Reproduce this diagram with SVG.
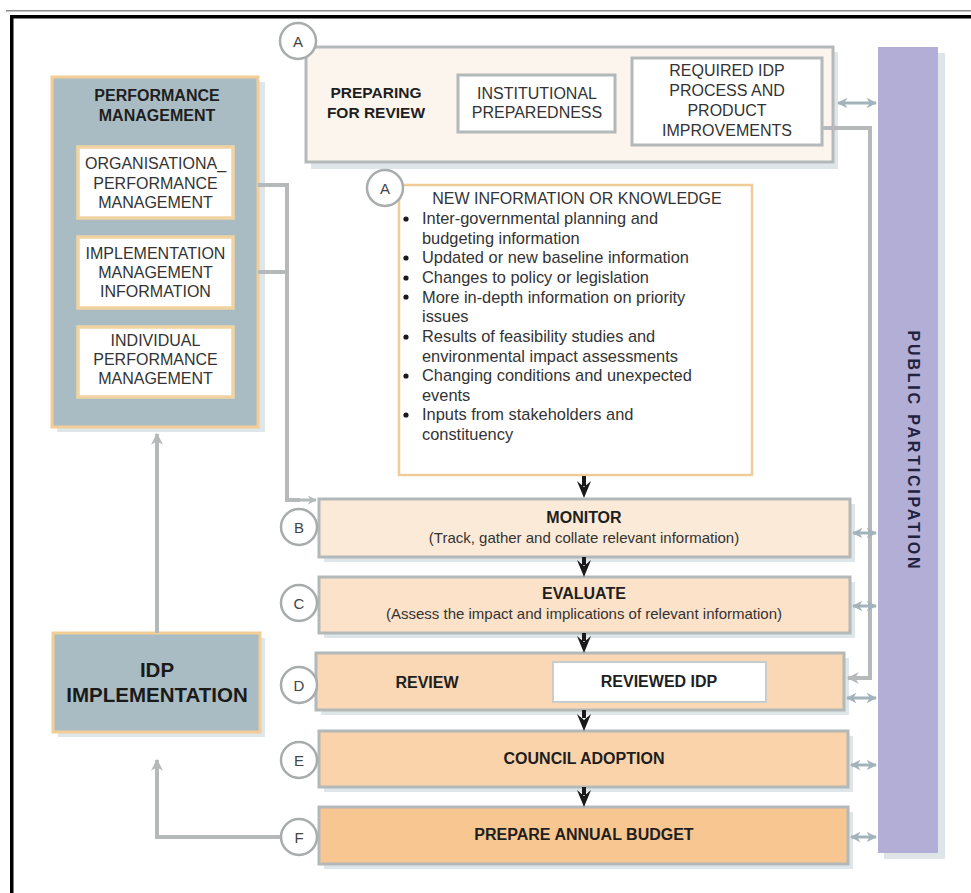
<svg xmlns="http://www.w3.org/2000/svg" width="971" height="893" viewBox="0 0 971 893">
  <style>
    .t { font-family: "Liberation Sans", Arial, sans-serif; font-size: 16px; fill: #333; }
    .c { text-anchor: middle; }
    .b { font-weight: bold; fill: #1e1e1e; }
    .box { stroke: #b3b8b9; stroke-width: 3; }
    .shadow { fill: #dfe6ea; }
    .circ { fill: #fff; stroke: #a8acac; stroke-width: 2.5; }
    .lbl { font-family: "Liberation Sans", Arial, sans-serif; font-size: 15px; fill: #444; text-anchor: middle; }
    .inner { fill: #fff; stroke: #f1d3a2; stroke-width: 3.5; }
    .link { fill: none; stroke: #b5b9ba; stroke-width: 4; }
    .pp { fill: none; stroke: #a3b3bc; stroke-width: 3; marker-start: url(#dbl); marker-end: url(#dbl); }
    .down { fill: #1a1a1a; }
  </style>
  <defs>
    <marker id="grey" viewBox="0 0 10 10" refX="9" refY="5" markerWidth="3" markerHeight="3" orient="auto" markerUnits="strokeWidth">
      <path d="M0,0 L10,5 L0,10 L3,5 z" fill="#b5b9ba"/>
    </marker>
    <marker id="dbl" viewBox="0 0 10 10" refX="9" refY="5" markerWidth="3.5" markerHeight="3.5" orient="auto-start-reverse" markerUnits="strokeWidth">
      <path d="M0,0 L10,5 L0,10 L3,5 z" fill="#a3b3bc"/>
    </marker>
  </defs>

  <rect width="971" height="893" fill="#fff"/>

  <!-- page frame -->
  <g id="frame">
    <rect x="6" y="10" width="965" height="1.5" fill="#8a8a8a"/>
    <rect x="10" y="15" width="961" height="3.5" fill="#000"/>
    <rect x="10" y="15" width="3.5" height="878" fill="#000"/>
  </g>

  <!-- public participation column -->
  <g id="public-participation">
    <rect x="884" y="53" width="61" height="806" fill="#dfe4e8"/>
    <rect x="878" y="47" width="60" height="806" fill="#b3aed6"/>
    <text class="t b" transform="translate(908,451) rotate(90)" text-anchor="middle" style="font-size:16px;letter-spacing:2.8px;fill:#1f2340">PUBLIC PARTICIPATION</text>
  </g>

  <!-- performance management -->
  <g id="performance-management">
    <rect x="57" y="82" width="208" height="350" class="shadow"/>
    <rect x="52" y="77" width="206" height="350" fill="#a9bcc3" stroke="#f2cd96" stroke-width="3"/>
    <text class="t c b" x="157" y="101" style="font-size:16px">PERFORMANCE</text>
    <text class="t c b" x="157" y="121" style="font-size:16px">MANAGEMENT</text>
    <g id="organisational-pm">
      <rect x="78" y="147" width="155" height="71" class="inner"/>
      <text class="t c" x="155.5" y="169">ORGANISATIONA_</text>
      <text class="t c" x="155.5" y="188.5">PERFORMANCE</text>
      <text class="t c" x="155.5" y="208">MANAGEMENT</text>
    </g>
    <g id="implementation-mi">
      <rect x="78" y="237" width="155" height="71" class="inner"/>
      <text class="t c" x="155.5" y="259">IMPLEMENTATION</text>
      <text class="t c" x="155.5" y="278">MANAGEMENT</text>
      <text class="t c" x="155.5" y="297">INFORMATION</text>
    </g>
    <g id="individual-pm">
      <rect x="78" y="327" width="155" height="70" class="inner"/>
      <text class="t c" x="155.5" y="346">INDIVIDUAL</text>
      <text class="t c" x="155.5" y="365">PERFORMANCE</text>
      <text class="t c" x="155.5" y="384">MANAGEMENT</text>
    </g>
  </g>

  <!-- IDP implementation -->
  <g id="idp-implementation">
    <rect x="58" y="638" width="207" height="99" class="shadow"/>
    <rect x="53" y="633" width="207" height="99" fill="#a9bcc3" stroke="#f2cd96" stroke-width="3"/>
    <text class="t c b" x="157" y="677" style="font-size:20.5px;fill:#1a1a1a">IDP</text>
    <text class="t c b" x="157" y="702" style="font-size:20.5px;fill:#1a1a1a">IMPLEMENTATION</text>
  </g>

  <!-- preparing for review -->
  <g id="preparing-for-review">
    <rect x="311" y="52" width="527" height="117" class="shadow"/>
    <rect x="306" y="47" width="527" height="115" fill="#fcf5ee" class="box"/>
    <text class="t c b" x="376" y="98" style="font-size:15.5px">PREPARING</text>
    <text class="t c b" x="376" y="118" style="font-size:15.5px">FOR REVIEW</text>
    <g id="institutional-preparedness">
      <rect x="458" y="75" width="157" height="57" fill="#fff" class="box"/>
      <text class="t c" x="537" y="99">INSTITUTIONAL</text>
      <text class="t c" x="537" y="118">PREPAREDNESS</text>
    </g>
    <g id="required-improvements">
      <rect x="632" y="58" width="190" height="87" fill="#fff" class="box"/>
      <text class="t c" x="727" y="76">REQUIRED IDP</text>
      <text class="t c" x="727" y="96">PROCESS AND</text>
      <text class="t c" x="727" y="116">PRODUCT</text>
      <text class="t c" x="727" y="136">IMPROVEMENTS</text>
    </g>
  </g>

  <!-- new information -->
  <g id="new-information">
    <rect x="399" y="185" width="353" height="290" fill="#fff" stroke="#f0cc98" stroke-width="2.5"/>
    <text class="t c" x="577" y="204">NEW INFORMATION OR KNOWLEDGE</text>
    <g fill="#1a1a1a">
      <circle cx="406" cy="219" r="2.6"/>
      <circle cx="406" cy="258" r="2.6"/>
      <circle cx="406" cy="278" r="2.6"/>
      <circle cx="406" cy="297" r="2.6"/>
      <circle cx="406" cy="337" r="2.6"/>
      <circle cx="406" cy="376" r="2.6"/>
      <circle cx="406" cy="415" r="2.6"/>
    </g>
    <g style="font-size:16.4px">
      <text class="t" x="422" y="224" style="font-size:16.4px">Inter-governmental planning and</text>
      <text class="t" x="422" y="243.5" style="font-size:16.4px">budgeting information</text>
      <text class="t" x="422" y="263" style="font-size:16.4px">Updated or new baseline information</text>
      <text class="t" x="422" y="283" style="font-size:16.4px">Changes to policy or legislation</text>
      <text class="t" x="422" y="302.5" style="font-size:16.4px">More in-depth information on priority</text>
      <text class="t" x="422" y="322" style="font-size:16.4px">issues</text>
      <text class="t" x="422" y="342" style="font-size:16.4px">Results of feasibility studies and</text>
      <text class="t" x="422" y="361.5" style="font-size:16.4px">environmental impact assessments</text>
      <text class="t" x="422" y="381" style="font-size:16.4px">Changing conditions and unexpected</text>
      <text class="t" x="422" y="400.5" style="font-size:16.4px">events</text>
      <text class="t" x="422" y="420" style="font-size:16.4px">Inputs from stakeholders and</text>
      <text class="t" x="422" y="439.5" style="font-size:16.4px">constituency</text>
    </g>
  </g>

  <!-- process stack -->
  <g id="monitor">
    <rect x="324" y="504" width="531" height="58" class="shadow"/>
    <rect x="319" y="499" width="531" height="58" fill="#fcead8" class="box"/>
    <text class="t c b" x="584" y="523">MONITOR</text>
    <text class="t c" x="584" y="543" style="font-size:15px">(Track, gather and collate relevant information)</text>
  </g>
  <g id="evaluate">
    <rect x="324" y="582" width="531" height="56" class="shadow"/>
    <rect x="319" y="577" width="531" height="56" fill="#fce2c9" class="box"/>
    <text class="t c b" x="584" y="599">EVALUATE</text>
    <text class="t c" x="584" y="619" style="font-size:15px">(Assess the impact and implications of relevant information)</text>
  </g>
  <g id="review">
    <rect x="321" y="658" width="528" height="57" class="shadow"/>
    <rect x="316" y="653" width="528" height="57" fill="#fad8b6" class="box"/>
    <text class="t c b" x="427" y="688">REVIEW</text>
    <g id="reviewed-idp">
      <rect x="553" y="662" width="213" height="40" fill="#fff" stroke="#c9ccc9" stroke-width="2"/>
      <text class="t c b" x="659" y="687">REVIEWED IDP</text>
    </g>
  </g>
  <g id="council-adoption">
    <rect x="324" y="736" width="529" height="56" class="shadow"/>
    <rect x="319" y="731" width="529" height="56" fill="#fbd3ab" class="box"/>
    <text class="t c b" x="584" y="764">COUNCIL ADOPTION</text>
  </g>
  <g id="prepare-annual-budget">
    <rect x="324" y="812" width="529" height="57" class="shadow"/>
    <rect x="319" y="807" width="529" height="57" fill="#f8c690" class="box"/>
    <text class="t c b" x="584" y="840">PREPARE ANNUAL BUDGET</text>
  </g>

  <!-- connectors -->
  <g id="connectors">
    <polyline class="link" points="258,185 287,185 287,500 300,500"/>
    <path class="link" d="M300,500 L316,500" marker-end="url(#grey)" style="stroke-width:3"/>
    <line class="link" x1="258" y1="272" x2="287" y2="272"/>
    <line class="link" x1="157" y1="633" x2="157" y2="434" marker-end="url(#grey)"/>
    <polyline class="link" points="280,837 157,837 157,760" marker-end="url(#grey)"/>
    <polyline class="link" points="822,128 870,128 870,678 848,678" marker-end="url(#grey)"/>

    <line class="pp" x1="838" y1="103" x2="876" y2="103"/>
    <line class="pp" x1="853" y1="533" x2="876" y2="533"/>
    <line class="pp" x1="853" y1="606" x2="876" y2="606"/>
    <line class="pp" x1="847" y1="698" x2="876" y2="698"/>
    <line class="pp" x1="851" y1="765" x2="876" y2="765"/>
    <line class="pp" x1="851" y1="837" x2="876" y2="837"/>

    <!-- notched down arrows between stages -->
    <g class="down">
      <rect x="582" y="476" width="4" height="10"/>
      <path d="M577,481 L584,487 L591,481 L584,498 z"/>
      <rect x="582" y="557" width="4" height="8"/>
      <path d="M577,560 L584,566 L591,560 L584,577 z"/>
      <rect x="582" y="633" width="4" height="8"/>
      <path d="M577,636 L584,642 L591,636 L584,653 z"/>
      <rect x="582" y="710" width="4" height="8"/>
      <path d="M577,714 L584,720 L591,714 L584,731 z"/>
      <rect x="582" y="787" width="4" height="8"/>
      <path d="M577,790 L584,796 L591,790 L584,807 z"/>
    </g>
  </g>

  <!-- step markers -->
  <g id="markers">
    <g id="marker-a-top"><circle cx="298" cy="41" r="18" class="circ"/><text class="lbl" x="298" y="46.5">A</text></g>
    <g id="marker-a-info"><circle cx="385" cy="188" r="18" class="circ"/><text class="lbl" x="385" y="193.5">A</text></g>
    <g id="marker-b"><circle cx="299" cy="527" r="18" class="circ"/><text class="lbl" x="299" y="532.5">B</text></g>
    <g id="marker-c"><circle cx="299" cy="603" r="18" class="circ"/><text class="lbl" x="299" y="608.5">C</text></g>
    <g id="marker-d"><circle cx="299" cy="685" r="18" class="circ"/><text class="lbl" x="299" y="690.5">D</text></g>
    <g id="marker-e"><circle cx="299" cy="760" r="18" class="circ"/><text class="lbl" x="299" y="765.5">E</text></g>
    <g id="marker-f"><circle cx="299" cy="837" r="18" class="circ"/><text class="lbl" x="299" y="842.5">F</text></g>
  </g>
</svg>
